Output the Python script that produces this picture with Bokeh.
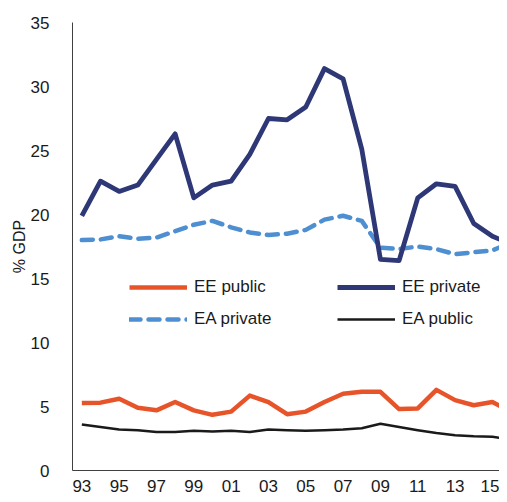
from bokeh.plotting import figure
from bokeh.models import Range1d, FixedTicker, Legend, LegendItem
from bokeh.embed import file_html
from bokeh.resources import INLINE

years = list(range(1993, 2017))
ee_private = [19.9, 22.6, 21.8, 22.3, 24.3, 26.3, 21.3, 22.3, 22.6, 24.7, 27.5, 27.4,
              28.4, 31.4, 30.6, 25.1, 16.5, 16.4, 21.3, 22.4, 22.2, 19.3, 18.3, 17.7]
ea_private = [18.0, 18.05, 18.3, 18.1, 18.2, 18.7, 19.2, 19.5, 19.0, 18.6, 18.4, 18.5,
              18.8, 19.6, 19.9, 19.5, 17.4, 17.3, 17.5, 17.3, 16.9, 17.05, 17.2, 17.8]
ee_public = [5.27, 5.3, 5.6, 4.9, 4.7, 5.35, 4.7, 4.35, 4.6, 5.85, 5.35, 4.4,
             4.6, 5.35, 6.0, 6.15, 6.15, 4.8, 4.85, 6.3, 5.5, 5.1, 5.35, 4.6]
ea_public = [3.6, 3.4, 3.2, 3.15, 3.0, 3.0, 3.1, 3.05, 3.1, 3.0, 3.2, 3.15,
             3.1, 3.15, 3.2, 3.3, 3.65, 3.4, 3.15, 2.93, 2.75, 2.67, 2.63, 2.45]
x_ticks = list(range(1993, 2017, 2))
x_labels = {y: "%02d" % (y % 100) for y in x_ticks}
y_ticks = [0, 5, 10, 15, 20, 25, 30, 35]

FONT = "Liberation Sans"

p = figure(width=499, height=494, output_backend="svg", toolbar_location=None,
           x_range=Range1d(1992.5, 2015.38), y_range=Range1d(0, 35),
           min_border_left=72, min_border_right=0, min_border_top=22, min_border_bottom=23)
p.outline_line_color = None
p.xgrid.visible = False
p.ygrid.visible = False

for ax in (p.xaxis[0], p.yaxis[0]):
    ax.major_tick_line_color = None
    ax.minor_tick_line_color = None
    ax.axis_line_color = "#404040"
    ax.axis_line_width = 1
    ax.major_label_text_font = FONT
    ax.major_label_text_font_size = "17px"
    ax.major_label_text_color = "#1a1a1a"

p.xaxis.ticker = FixedTicker(ticks=x_ticks)
p.xaxis.major_label_overrides = x_labels
p.xaxis.major_label_standoff = 3
p.yaxis.ticker = FixedTicker(ticks=y_ticks)
p.yaxis.major_label_standoff = 17
p.yaxis.axis_label = "% GDP"
p.yaxis.axis_label_text_font = FONT
p.yaxis.axis_label_text_font_size = "16px"
p.yaxis.axis_label_text_font_style = "normal"
p.yaxis.axis_label_text_color = "#1a1a1a"
p.yaxis.axis_label_standoff = 0

r_ea_pub = p.line(years, ea_public, line_color="#1a1a1a", line_width=2.5, line_join="round")
r_ee_pub = p.line(years, ee_public, line_color="#E8542A", line_width=4.5, line_join="round")
r_ea_pri = p.line(years, ea_private, line_color="#4E8FD1", line_width=4.5, line_dash="11 8",
                  line_cap="round", line_join="round")
r_ee_pri = p.line(years, ee_private, line_color="#2E3877", line_width=4.8, line_join="round")

def make_legend(items, loc):
    lg = Legend(items=items, location=loc, orientation="vertical",
                padding=0, margin=0, spacing=12, glyph_width=58, glyph_height=20,
                label_height=20, label_standoff=7, border_line_color=None,
                background_fill_alpha=0, label_text_font=FONT,
                label_text_font_size="17px", label_text_color="#1a1a1a")
    return lg

leg1 = make_legend([LegendItem(label="EE public", renderers=[r_ee_pub]),
                    LegendItem(label="EA private", renderers=[r_ea_pri])], (57, 141))
leg2 = make_legend([LegendItem(label="EE private", renderers=[r_ee_pri]),
                    LegendItem(label="EA public", renderers=[r_ea_pub])], (265, 141))
p.add_layout(leg1, "center")
p.add_layout(leg2, "center")

open("out.html", "w").write(file_html(p, INLINE))
